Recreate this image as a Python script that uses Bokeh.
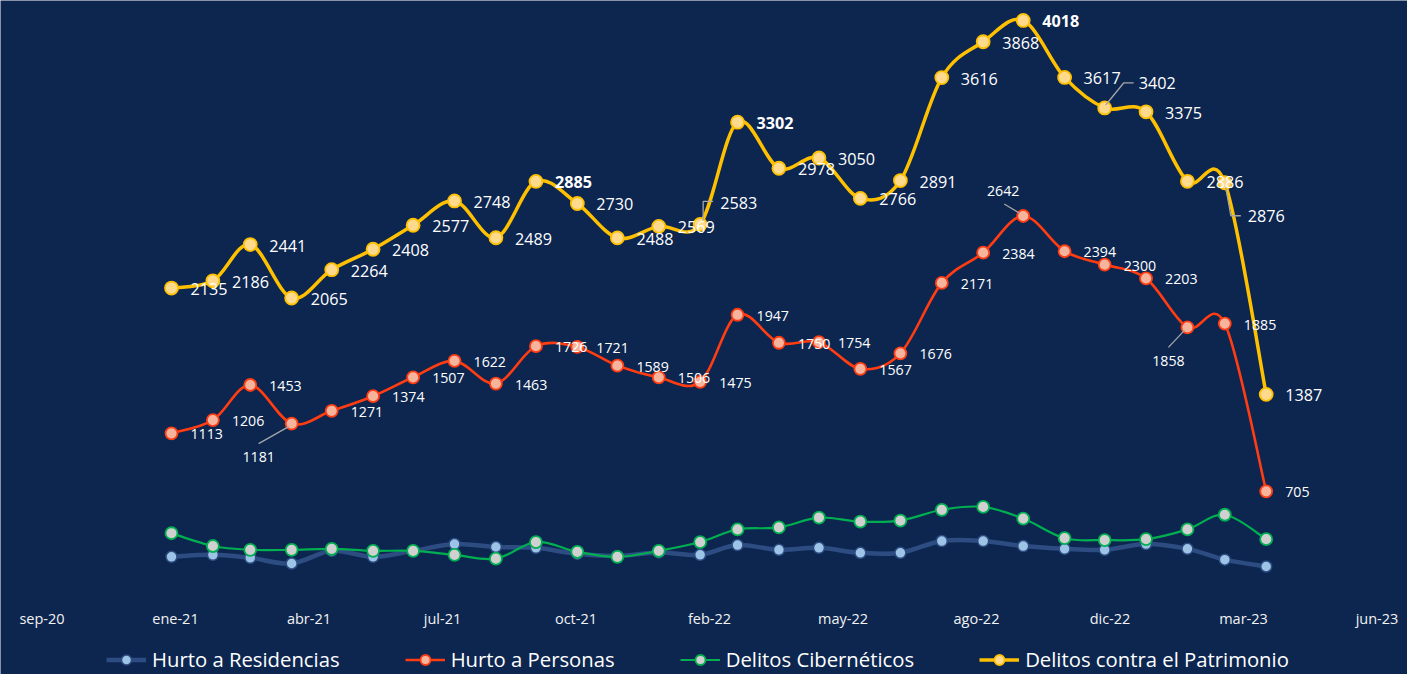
import numpy as np
import pandas as pd
from bokeh.plotting import figure
from bokeh.models import ColumnDataSource, Range1d, FixedTicker, Legend, LegendItem
from bokeh.core.properties import value, field
from bokeh.embed import file_html
from bokeh.resources import INLINE

# ---------------- data ----------------
months = ["2021-01", "2021-02", "2021-03", "2021-04", "2021-05", "2021-06", "2021-07",
          "2021-08", "2021-09", "2021-10", "2021-11", "2021-12", "2022-01", "2022-02",
          "2022-03", "2022-04", "2022-05", "2022-06", "2022-07", "2022-08", "2022-09",
          "2022-10", "2022-11", "2022-12", "2023-01", "2023-02", "2023-03", "2023-04"]

residencias = [244, 258, 237, 197, 286, 244, 286, 334, 313, 307, 265, 250, 275, 258,
               327, 293, 307, 272, 272, 355, 355, 320, 300, 293, 334, 300, 224, 176]
personas = [1113, 1206, 1453, 1181, 1271, 1374, 1507, 1622, 1463, 1726, 1721, 1589, 1506, 1475,
            1947, 1750, 1754, 1567, 1676, 2171, 2384, 2642, 2394, 2300, 2203, 1858, 1885, 705]
ciberneticos = [410, 320, 293, 293, 300, 286, 286, 258, 231, 348, 279, 244, 286, 348,
                437, 451, 520, 492, 499, 575, 595, 513, 375, 362, 368, 437, 540, 368]
patrimonio = [2135, 2186, 2441, 2065, 2264, 2408, 2577, 2748, 2489, 2885, 2730, 2488, 2569, 2583,
              3302, 2978, 3050, 2766, 2891, 3616, 3868, 4018, 3617, 3402, 3375, 2886, 2876, 1387]

series_names = ["Hurto a Residencias", "Hurto a Personas", "Delitos Cibernéticos",
                "Delitos contra el Patrimonio"]

tick_dates = ["2020-09-26", "2021-01-04", "2021-04-14", "2021-07-23", "2021-10-31", "2022-02-08",
              "2022-05-19", "2022-08-27", "2022-12-05", "2023-03-15", "2023-06-23"]
tick_labels = ["sep-20", "ene-21", "abr-21", "jul-21", "oct-21", "feb-22",
               "may-22", "ago-22", "dic-22", "mar-23", "jun-23"]

# ---------------- styles / layout ----------------
BG = "#0C2650"
FONT = "Open Sans"
W, H = 1407, 674
LEFT_PX, RIGHT_PX = 41.5, 1376.5   # screen columns of the first and last tick
ZERO_PX = 591                      # screen row of value 0 (from top of figure)
PX_PER_UNIT = 0.14213              # screen pixels per unit of value
Y_TOP = ZERO_PX / PX_PER_UNIT
Y_BOTTOM = -(H - ZERO_PX) / PX_PER_UNIT

EPOCH = pd.Timestamp("1970-01-01")


def to_ms(s):
    return int((pd.Timestamp(s) - EPOCH).total_seconds() * 1000)


xms = np.array([to_ms(m) for m in months], dtype=float)
tick_ms = [to_ms(d) for d in tick_dates]
px_per_ms = (RIGHT_PX - LEFT_PX) / (tick_ms[-1] - tick_ms[0])
x_start = tick_ms[0] - LEFT_PX / px_per_ms
x_end = tick_ms[-1] + (W - RIGHT_PX) / px_per_ms

p = figure(width=W, height=H, x_axis_type="datetime", y_axis_location=None,
           x_range=Range1d(x_start, x_end), y_range=Range1d(Y_BOTTOM, Y_TOP),
           output_backend="svg", toolbar_location=None,
           min_border_left=0, min_border_right=0, min_border_top=0, min_border_bottom=0,
           background_fill_color=BG, border_fill_color=BG)
p.outline_line_color = None
p.outline_line_alpha = 0
p.grid.visible = False

ax = p.xaxis[0]
ax.fixed_location = 0
ax.ticker = FixedTicker(ticks=tick_ms)
ax.major_label_overrides = {t: l for t, l in zip(tick_ms, tick_labels)}
ax.axis_line_color = None
ax.major_tick_line_color = None
ax.minor_tick_line_color = None
ax.major_tick_out = 0
ax.major_tick_in = 0
ax.major_label_standoff = 17
ax.major_label_text_color = "#F2F2F2"
ax.major_label_text_font = FONT
ax.major_label_text_font_size = "14.5px"


def bezier_source(vals):
    y = np.array(vals, dtype=float)
    n = len(y)
    x = xms
    i0 = np.arange(n - 1)
    i1 = i0 + 1
    ip = np.clip(i0 - 1, 0, n - 1)
    i2 = np.clip(i0 + 2, 0, n - 1)
    return ColumnDataSource(dict(
        x0=x[i0], y0=y[i0], x1=x[i1], y1=y[i1],
        cx0=x[i0] + (x[i1] - x[ip]) / 6.0,
        cy0=y[i0] + (y[i1] - y[ip]) / 6.0,
        cx1=x[i1] - (x[i2] - x[i0]) / 6.0,
        cy1=y[i1] - (y[i2] - y[i0]) / 6.0,
    ))


styles = [
    dict(vals=residencias, line="#2D4C82", lw=4.5, mfill="#9DC3E6", mline="#2D4C82", msize=11, mlw=1.5),
    dict(vals=personas, line="#FF3C12", lw=2.6, mfill="#F7B49D", mline="#FF3C12", msize=12, mlw=1.8),
    dict(vals=ciberneticos, line="#00B050", lw=2.2, mfill="#D0D0D0", mline="#00B050", msize=12, mlw=1.8),
    dict(vals=patrimonio, line="#FFC000", lw=3.5, mfill="#FFD98C", mline="#FFC000", msize=13, mlw=1.8),
]

items = []
for name, st in zip(series_names, styles):
    lr = p.bezier(x0="x0", y0="y0", x1="x1", y1="y1", cx0="cx0", cy0="cy0", cx1="cx1", cy1="cy1",
                  source=bezier_source(st["vals"]), line_color=st["line"], line_width=st["lw"])
    sr = p.scatter(x=xms, y=st["vals"], marker="circle", size=st["msize"],
                   fill_color=st["mfill"], line_color=st["mline"], line_width=st["mlw"])
    items.append(LegendItem(label=name, renderers=[lr, sr]))

# ---------------- data labels ----------------
# special placements: index -> (dx, dy, align, leader polyline in screen offsets)
special_pat = {
    13: (20, -21, "left", [(3, -4), (3, -23), (13, -23)]),
    23: (34, -25, "left", [(1, -3), (19, -25), (29, -25)]),
    26: (23, 33, "left", [(1, 5), (6, 33), (16, 33)]),
}
special_per = {
    3: (-33, 33, "center", [(-3, 3), (-33, 20)]),
    21: (-20, -25, "center", [(-19, -12), (-4, -3)]),
    25: (-19, 34, "center", [(-3, 3), (-19, 20)]),
}
bold_pat = {9, 14, 21}

leader_xs, leader_ys = [], []


def label_source(vals, special, bold):
    dx, dy, al, st = [], [], [], []
    for i, v in enumerate(vals):
        if i in special:
            sdx, sdy, sal, pts = special[i]
            dx.append(sdx); dy.append(sdy); al.append(sal)
            leader_xs.append([xms[i] + px / px_per_ms for px, _ in pts])
            leader_ys.append([v - py / PX_PER_UNIT for _, py in pts])
        else:
            dx.append(19); dy.append(1); al.append("left")
        st.append("bold" if i in bold else "normal")
    return ColumnDataSource(dict(x=xms, y=vals, t=[str(v) for v in vals],
                                 dx=dx, dy=dy, al=al, st=st))


src_per = label_source(personas, special_per, set())
src_pat = label_source(patrimonio, special_pat, bold_pat)

p.multi_line(xs=leader_xs, ys=leader_ys, line_color="#A6A6A6", line_width=1.3)

p.text(x="x", y="y", text="t", x_offset="dx", y_offset="dy", source=src_per,
       text_align=field("al"), text_baseline="middle", text_font=value(FONT),
       text_font_size="14.2px", text_font_style=field("st"), text_color="#FFFFFF")
p.text(x="x", y="y", text="t", x_offset="dx", y_offset="dy", source=src_pat,
       text_align=field("al"), text_baseline="middle", text_font=value(FONT),
       text_font_size="16.2px", text_font_style=field("st"), text_color="#FFFFFF")

legend = Legend(items=items, orientation="horizontal", location=(106, 1),
                glyph_width=40, glyph_height=25, label_standoff=6, spacing=65,
                padding=0, margin=0, border_line_color=None, background_fill_alpha=0,
                label_text_color="#FFFFFF", label_text_font=FONT, label_text_font_size="20.3px")
p.add_layout(legend)

open("out.html", "w").write(file_html(p, INLINE))
